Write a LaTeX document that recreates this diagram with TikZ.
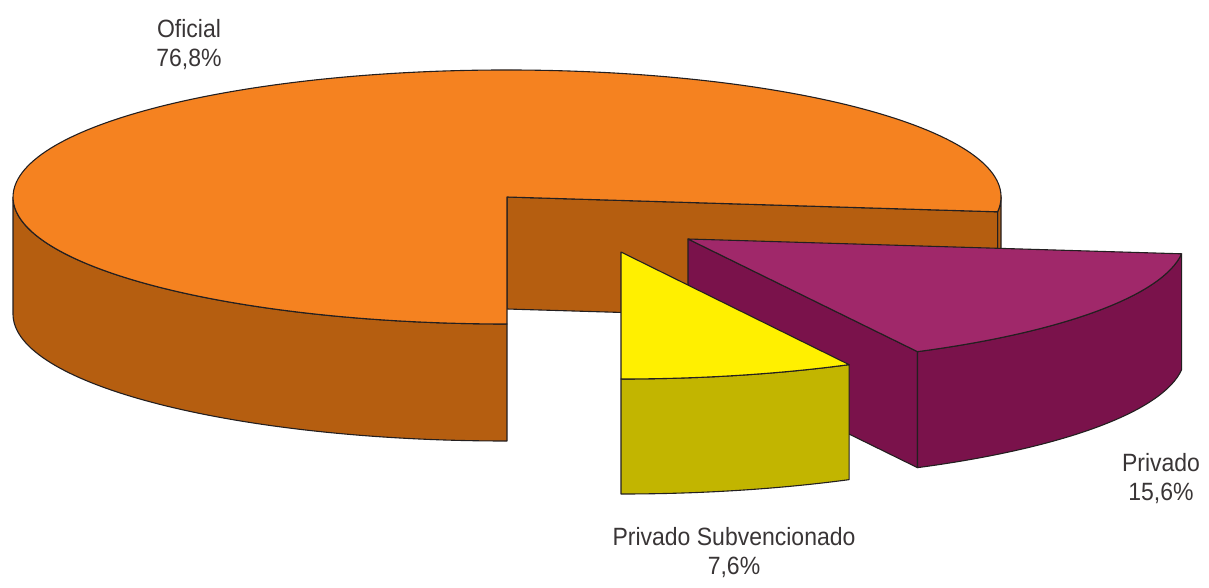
\documentclass[tikz,border=0pt]{standalone}
\usepackage{fontspec}
\setmainfont{Liberation Sans}[FakeStretch=0.92]
\usepackage{xcolor}
\definecolor{ofitop}{RGB}{245,130,32}
\definecolor{ofiside}{RGB}{181,94,16}
\definecolor{privtop}{RGB}{160,40,106}
\definecolor{privside}{RGB}{122,18,75}
\definecolor{subtop}{RGB}{255,240,0}
\definecolor{subside}{RGB}{194,181,0}
\definecolor{rim}{RGB}{35,31,32}
\usetikzlibrary{calc}
\tikzstyle{face} = [
    draw=rim,
    line width=1.1pt,
    line join=round,
]
\tikzstyle{oficial} = [face, fill=ofitop]
\tikzstyle{oficialside} = [face, fill=ofiside]
\tikzstyle{privado} = [face, fill=privtop]
\tikzstyle{privadoside} = [face, fill=privside]
\tikzstyle{subv} = [face, fill=subtop]
\tikzstyle{subvside} = [face, fill=subside]
\tikzstyle{label} = [
    align=center,
    text=rim!90,
    font=\fontsize{25}{29}\selectfont,
]
\tikzset{rad/.style={x radius=494pt, y radius=127pt}}
\tikzset{radp/.style={x radius=497pt, y radius=127pt}}

\begin{document}
\begin{tikzpicture}[x=1pt, y=1pt]
    \useasboundingbox (0,0) rectangle (1209,587);
    \coordinate (ofi) at (507,390);
    \coordinate (priv) at (688,348);
    \coordinate (sub) at (621,335);

    % oficial
    \draw [oficialside] ($(ofi)+(180:494pt and 127pt)$) -- ++(0,-117)
        arc[start angle=180, end angle=270, rad] -- ++(0,117)
        arc[start angle=270, end angle=180, rad] -- cycle;
    \draw [oficialside] ($(ofi)+(-6.7:494pt and 127pt)$)
        arc[start angle=-6.7, end angle=0, rad] -- ++(0,-117)
        arc[start angle=0, end angle=-6.7, rad] -- cycle;
    \draw [oficialside] (ofi) -- ($(ofi)+(-6.7:494pt and 127pt)$) -- ++(0,-112)
        -- ($(ofi)+(0,-112)$) -- cycle;
    \draw [oficial] (ofi) -- ++(-6.7:494pt and 127pt)
        arc[start angle=-6.7, end angle=270, rad] -- cycle;

    % privado
    \draw [privadoside] (priv) -- ($(priv)+(-62.5:497pt and 127pt)$) -- ++(0,-116)
        -- ($(priv)+(0,-116)$) -- cycle;
    \draw [privadoside] ($(priv)+(-62.5:497pt and 127pt)$)
        arc[start angle=-62.5, end angle=-6.7, radp] -- ++(0,-116)
        arc[start angle=-6.7, end angle=-62.5, radp] -- cycle;
    \draw [privado] (priv) -- ++(-6.7:497pt and 127pt)
        arc[start angle=-6.7, end angle=-62.5, radp] -- cycle;

    % privado subvencionado
    \draw [subvside] ($(sub)+(-90:494pt and 127pt)$)
        arc[start angle=-90, end angle=-62.5, rad] -- ++(0,-115)
        arc[start angle=-62.5, end angle=-90, rad] -- cycle;
    \draw [subv] (sub) -- ++(-90:494pt and 127pt)
        arc[start angle=-90, end angle=-62.5, rad] -- cycle;

    % labels
    \node (oficiallbl) at (189,542) [label] {Oficial\\76,8\%};
    \node (privadolbl) at (1161,108) [label] {Privado\\15,6\%};
    \node (subvlbl) at (734,34) [label] {Privado Subvencionado\\7,6\%};
\end{tikzpicture}
\end{document}
